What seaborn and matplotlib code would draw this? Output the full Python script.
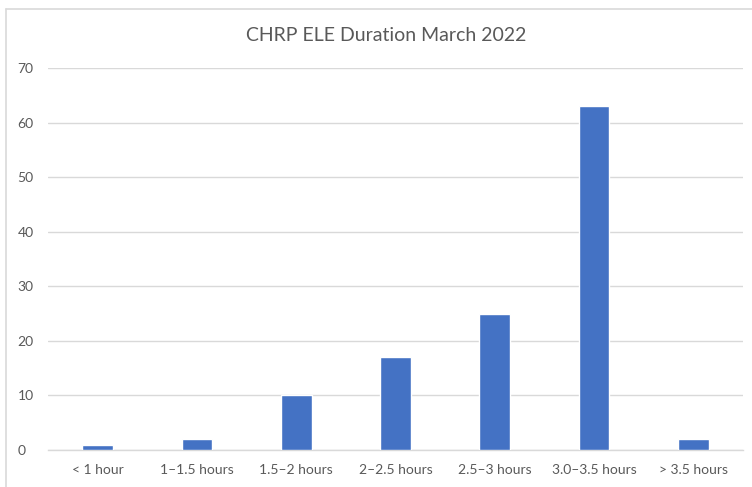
import matplotlib
matplotlib.use("Agg")
import matplotlib.pyplot as plt
import seaborn as sns
import pandas as pd
from matplotlib.lines import Line2D

categories = ["< 1 hour", "1\u20131.5 hours", "1.5\u20132 hours", "2\u20132.5 hours",
              "2.5\u20133 hours", "3.0\u20133.5 hours", "> 3.5 hours"]
values = [1, 2, 10, 17, 25, 63, 2]
yticks = [0, 10, 20, 30, 40, 50, 60, 70]
title = "CHRP ELE Duration March 2022"

df = pd.DataFrame({"cat": categories, "val": values})

sns.set_theme(style="white")
plt.rcParams["font.family"] = ["Lato", "DejaVu Sans"]

fig = plt.figure(figsize=(7.52, 4.87), dpi=100)
ax = fig.add_axes([0.064, 0.076, 0.924, 0.784])

sns.barplot(data=df, x="cat", y="val", color="#4472C4", width=0.31,
            saturation=1, ax=ax, zorder=3)

ax.set_ylim(0, 70)
ax.set_yticks(yticks)
ax.set_xlim(-0.5, len(categories) - 0.5)
ax.grid(axis="y", color="#D9D9D9", linewidth=1, zorder=0)
ax.set_axisbelow(True)
for s in ["top", "right", "left"]:
    ax.spines[s].set_visible(False)
ax.spines["bottom"].set_color("#D9D9D9")
ax.spines["bottom"].set_linewidth(1)
ax.set_xlabel("")
ax.set_ylabel("")
ax.tick_params(axis="both", length=0, labelsize=10, colors="#595959", pad=10)
ax.tick_params(axis="y", pad=22)
for lbl in ax.get_yticklabels():
    lbl.set_horizontalalignment("left")

fig.text(0.513, 0.928, title, ha="center", va="center", fontsize=14, color="#595959")

x0 = 5.5 / 752
y0 = 1 - 8.5 / 487
fig.add_artist(Line2D([x0, 1.0], [y0, y0], transform=fig.transFigure,
                      color="#D9D9D9", linewidth=1.2))
fig.add_artist(Line2D([x0, x0], [y0, 0.0], transform=fig.transFigure,
                      color="#D9D9D9", linewidth=1.2))

fig.savefig("out.png", dpi=100)
